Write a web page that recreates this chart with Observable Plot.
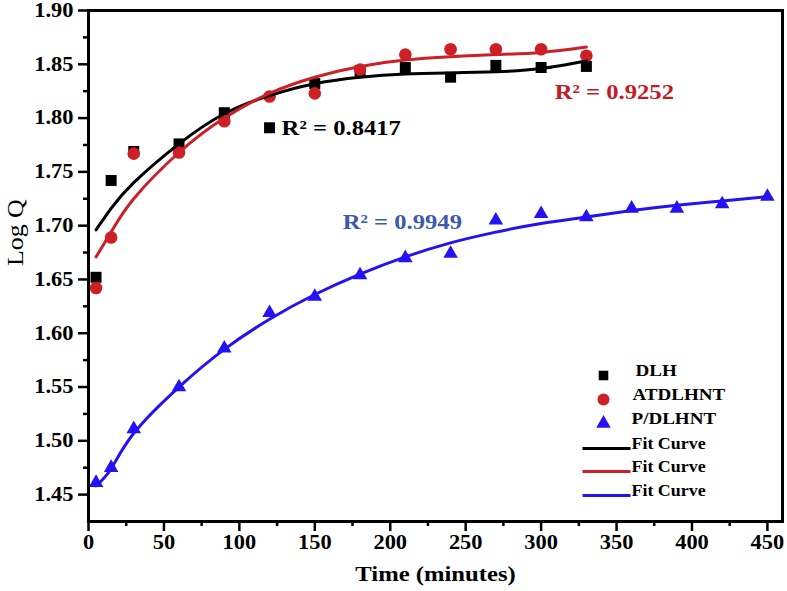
<!DOCTYPE html>
<html><head><meta charset="utf-8">
<script src="https://cdn.jsdelivr.net/npm/d3@7"></script>
<script src="https://cdn.jsdelivr.net/npm/@observablehq/plot@0.6"></script>
<style>body{margin:0;background:#fff;} #chart svg{display:block;}</style>
</head><body><div id="chart"></div>
<script>
// ---- data ----
const timesA = [5,15,30,60,90,120,150,180,210,240,270,300,330];
const timesB = [5,15,30,60,90,120,150,180,210,240,270,300,330,360,390,420,450];
const dlh     = [1.652,1.742,1.769,1.776,1.805,1.791,1.832,1.844,1.847,1.838,1.849,1.847,1.848];
const atdlhnt = [1.642,1.689,1.767,1.768,1.797,1.820,1.823,1.845,1.859,1.864,1.864,1.864,1.858];
const pdlhnt  = [1.461,1.475,1.511,1.550,1.586,1.619,1.634,1.654,1.670,1.674,1.705,1.711,1.708,1.716,1.716,1.720,1.727];
const fitDLH     = [1.696,1.716,1.740,1.776,1.804,1.821,1.832,1.838,1.841,1.842,1.843,1.846,1.853];
const fitATDLHNT = [1.671,1.694,1.725,1.768,1.800,1.823,1.838,1.848,1.854,1.857,1.859,1.861,1.866];
const fitPDLHNT  = [1.458,1.474,1.507,1.550,1.585,1.613,1.636,1.655,1.671,1.684,1.694,1.702,1.708,1.714,1.719,1.723,1.727];
const xTicks = [0,50,100,150,200,250,300,350,400,450];
const xMinor = [25,75,125,175,225,275,325,375,425];
const yTicks = [1.45,1.50,1.55,1.60,1.65,1.70,1.75,1.80,1.85,1.90];
const yMinor = [1.475,1.525,1.575,1.625,1.675,1.725,1.775,1.825,1.875];
const seriesNames = ["DLH","ATDLHNT","P/DLHNT"];
const r2Labels = ["R\u00B2 = 0.8417", "R\u00B2 = 0.9252", "R\u00B2 = 0.9949"];
const r2Anchors = [{x:128, y:1.791}, {x:309, y:1.8246}, {x:168.5, y:1.703}];

const BLACK = "#000000", RED = "#cc1f26", BLUE = "#2412f5";
const textColors = ["#000000", "#c41a24", "#3d5ba8"];
const FONT = "'Liberation Serif','Times New Roman',serif";

const toRows = (xs, ys) => xs.map((x,i) => ({x, y: ys[i]}));
const ptsDLH = toRows(timesA, dlh), ptsAT = toRows(timesA, atdlhnt), ptsP = toRows(timesB, pdlhnt);
const lnDLH = toRows(timesA, fitDLH), lnAT = toRows(timesA, fitATDLHNT), lnP = toRows(timesB, fitPDLHNT);

const lineSymbol = {draw(ctx){ ctx.moveTo(-24,0); ctx.lineTo(24,0); }};

const legendRows = [
  {label: seriesNames[0], kind: "square", color: BLACK, dy: -146, tdx: -147},
  {label: seriesNames[1], kind: "circle", color: RED, dy: -122, tdx: -150},
  {label: seriesNames[2], kind: "triangle", color: BLUE, dy: -98, tdx: -151},
  {label: "Fit Curve", kind: "line", color: BLACK, dy: -73, tdx: -151},
  {label: "Fit Curve", kind: "line", color: RED, dy: -50, tdx: -151},
  {label: "Fit Curve", kind: "line", color: BLUE, dy: -26, tdx: -151}
];
const legendMarks = legendRows.flatMap(r => [
  r.kind === "line"
    ? Plot.dot([0], {frameAnchor: "bottom-right", dx: -176, dy: r.dy, symbol: lineSymbol, stroke: r.color, strokeWidth: 3, fill: "none", r: 5})
    : Plot.dot([0], {frameAnchor: "bottom-right", dx: -179, dy: r.dy, symbol: r.kind, fill: r.color, stroke: "none",
        r: r.kind === "square" ? 5.4 : r.kind === "circle" ? 6 : 5.4}),
  Plot.text([r.label], {frameAnchor: "bottom-right", dx: r.tdx, dy: r.dy, textAnchor: "start",
    fontSize: r.kind === "line" ? 16 : 17, fontWeight: "bold", fontFamily: FONT, fill: "#000"})
]);

const r2Marks = r2Labels.map((t,i) => Plot.text([t], {x: () => r2Anchors[i].x, y: () => r2Anchors[i].y,
  text: d => d, textAnchor: "start", fontSize: 22, fontWeight: "bold", fontFamily: FONT, fill: textColors[i]}));

const chart = Plot.plot({
  width: 787, height: 591,
  marginLeft: 88, marginRight: 5, marginTop: 10, marginBottom: 70,
  style: {fontFamily: FONT, background: "#fff", color: "#000"},
  x: {domain: [0, 460]},
  y: {domain: [1.425, 1.90]},
  marks: [
    Plot.axisX({ticks: xMinor, tickSize: 5, strokeWidth: 2.5, tickFormat: () => "", label: null}),
    Plot.axisX({ticks: xTicks, tickSize: 10, tickPadding: 3, strokeWidth: 2.5, fontSize: 20, fontWeight: "bold", fontFamily: FONT, label: null}),
    Plot.axisY({ticks: yMinor, tickSize: 5, strokeWidth: 2.5, tickFormat: () => "", label: null}),
    Plot.axisY({ticks: yTicks, tickSize: 10, tickPadding: 5, strokeWidth: 2.5, tickFormat: d => d.toFixed(2), fontSize: 20, fontWeight: "bold", fontFamily: FONT, label: null}),
    Plot.dot(ptsDLH, {x: "x", y: "y", symbol: "square", fill: BLACK, r: 6.2}),
    Plot.dot(ptsAT, {x: "x", y: "y", symbol: "circle", fill: RED, r: 6.3}),
    Plot.dot(ptsP, {x: "x", y: "y", symbol: "triangle", fill: BLUE, r: 5.4}),
    Plot.line(lnDLH, {x: "x", y: "y", stroke: BLACK, strokeWidth: 3, curve: "natural"}),
    Plot.line(lnAT, {x: "x", y: "y", stroke: RED, strokeWidth: 3, curve: "natural"}),
    Plot.line(lnP, {x: "x", y: "y", stroke: BLUE, strokeWidth: 3, curve: "natural"}),
    ...r2Marks,
    ...legendMarks,
    Plot.text(["Time (minutes)"], {frameAnchor: "bottom", dy: 59, fontSize: 22, fontWeight: "bold", fontFamily: FONT, fill: "#000"}),
    Plot.text(["Log Q"], {frameAnchor: "left", dx: -73, rotate: -90, fontSize: 23, fontWeight: "normal", fontFamily: FONT, fill: "#000"}),
    Plot.frame({stroke: "#000", strokeWidth: 3})
  ]
});
document.getElementById("chart").appendChild(chart);
// widen glyphs slightly to match the reference's broad serif face
chart.querySelectorAll("text").forEach(t => {
  const L = t.getComputedTextLength();
  if (L > 0) { t.setAttribute("textLength", (L * 1.12).toFixed(1)); t.setAttribute("lengthAdjust", "spacingAndGlyphs"); }
});
</script>
</body></html>
